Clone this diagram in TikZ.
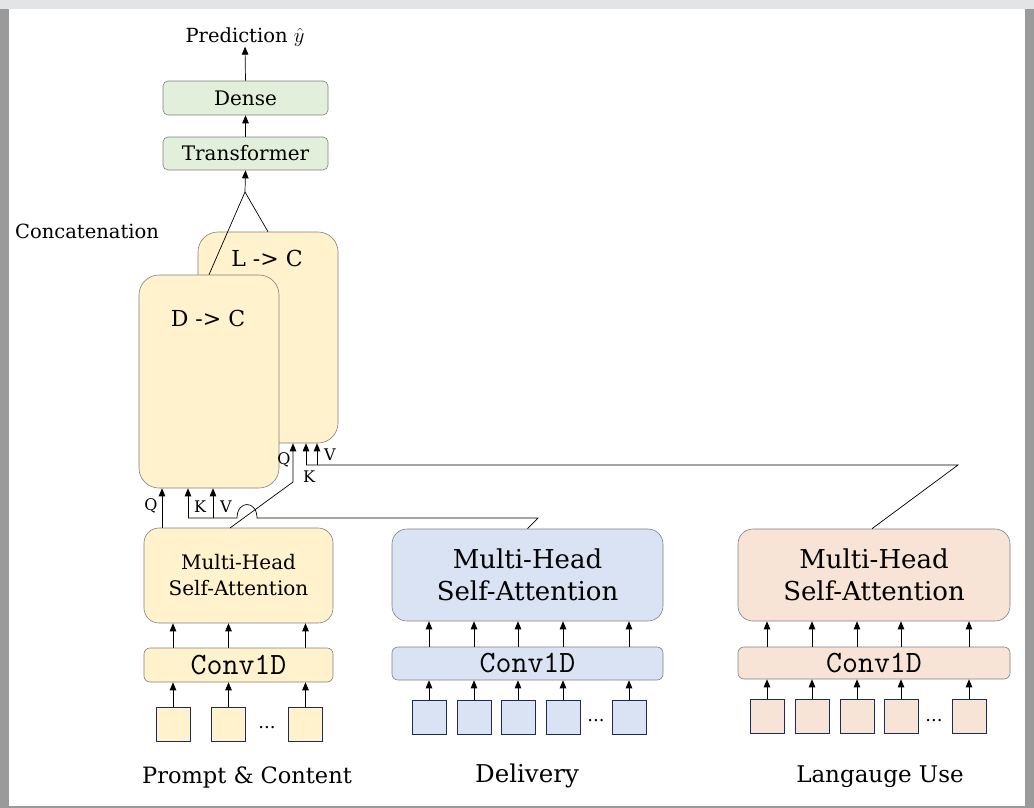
\documentclass[tikz,border=0pt]{standalone}
\usepackage{fontspec}
\setmainfont{DejaVu Serif}
\usetikzlibrary{arrows.meta,calc}
\definecolor{ylw}{HTML}{FFF2CC}
\definecolor{grn}{HTML}{E2EFDA}
\definecolor{blu}{HTML}{DAE3F3}
\definecolor{pch}{HTML}{F8E4D6}
\definecolor{edge}{HTML}{808080}
\definecolor{navy}{HTML}{1F2A5C}
\definecolor{topbar}{HTML}{E3E4E6}
\definecolor{sidebar}{HTML}{9A9A9A}
\begin{document}
\begin{tikzpicture}[x=1pt,y=-1pt,
  arr/.style={-{Triangle[length=8pt,width=6.5pt]}, line width=0.7pt},
  ln/.style={line width=0.7pt},
  topbox/.style={draw=edge, fill=grn, line width=0.6pt, rounded corners=5pt, inner sep=0pt, minimum width=165pt, minimum height=34pt, font=\fontsize{20}{22}\selectfont},
  bigbox/.style={draw=edge, fill=ylw, line width=0.6pt, rounded corners=20pt, inner sep=0pt, minimum width=140pt},
  mhbox/.style={draw=edge, line width=0.6pt, rounded corners=15pt, inner sep=0pt, align=center},
  convbox/.style={draw=edge, line width=0.6pt, rounded corners=6pt, inner sep=0pt, font=\ttfamily\fontsize{31}{33}\selectfont},
  sq/.style={draw=navy, line width=0.6pt, inner sep=0pt, minimum width=34pt, minimum height=34pt},
  lbl/.style={inner sep=0pt, font=\fontsize{19.5}{22}\selectfont},
  qkv/.style={inner sep=0pt, font=\fontsize{16}{18}\selectfont},
  dots/.style={inner sep=0pt, font=\fontsize{18}{20}\selectfont},
  bottomlbl/.style={inner sep=0pt}
]
\useasboundingbox (0,0) rectangle (1034,808);
% page frame
\fill[white] (0,0) rectangle (1034,808);
\fill[topbar] (0,0) rectangle (1034,9);
\fill[sidebar] (0,9) rectangle (9,808);
\fill[sidebar] (1025,9) rectangle (1034,808);
\fill[sidebar] (9,806) rectangle (1025,808);

% top
\node[lbl] (pred) at (245,37) {Prediction $\hat{y}$};
\node[topbox] (dense) at (245.5,98) {Dense};
\node[topbox, minimum height=33pt] (trans) at (245.5,153.5) {Transformer};
\node[lbl, anchor=west] (concat) at (15,231) {Concatenation};

% cross-attention blocks
\node[bigbox, minimum height=211pt] (lc) at (268,337.5) {};
\node[inner sep=0pt, font=\fontsize{22}{24}\selectfont] (lct) at (267,258) {L -> C};
\node[bigbox, minimum height=213pt] (dc) at (209,381.5) {};
\node[inner sep=0pt, font=\fontsize{22}{24}\selectfont] (dct) at (208,318) {D -> C};

\coordinate (cj) at (245,192);
\draw[arr] (dense.north) -- (pred.south);
\draw[arr] (trans.north) -- (dense.south);
\draw[arr] (cj) -- (trans.south);
\draw[ln] (cj) -- (dc.north);
\draw[ln] (cj) -- (lc.north);

% Prompt & Content
\node[mhbox, fill=ylw, minimum width=189pt, minimum height=95pt, font=\fontsize{20}{26}\selectfont] (mh1) at (238.5,575.5) {Multi-Head\\Self-Attention};
\node[convbox, fill=ylw, minimum width=189pt, minimum height=34pt] (cv1) at (238.5,665) {Conv1D};
\node[sq, fill=ylw] (a1) at (173,724) {};
\node[sq, fill=ylw] (a2) at (228.5,724) {};
\node[sq, fill=ylw] (a3) at (305.5,724) {};
\node[dots] (adots) at (267,728) {...};
\node[bottomlbl, font=\fontsize{22.5}{25}\selectfont] (pc) at (247,777) {Prompt \& Content};
\foreach \s in {a1,a2,a3}{
  \draw[arr] (\s.north) -- (\s.north |- cv1.south);
  \draw[arr] (\s.north |- cv1.north) -- (\s.north |- mh1.south);
}

% Delivery
\node[mhbox, fill=blu, minimum width=271pt, minimum height=92pt, font=\fontsize{26}{32}\selectfont] (mh2) at (527.5,575) {Multi-Head\\Self-Attention};
\node[convbox, fill=blu, minimum width=271pt, minimum height=33pt] (cv2) at (527.5,663.5) {Conv1D};
\node[sq, fill=blu] (b1) at (429,717) {};
\node[sq, fill=blu] (b2) at (474,717) {};
\node[sq, fill=blu] (b3) at (518,717) {};
\node[sq, fill=blu] (b4) at (563,717) {};
\node[sq, fill=blu] (b5) at (629,717) {};
\node[dots] (bdots) at (596,721) {...};
\node[bottomlbl, font=\fontsize{24.5}{27}\selectfont] (del) at (527,776) {Delivery};
\foreach \s in {b1,b2,b3,b4,b5}{
  \draw[arr] (\s.north) -- (\s.north |- cv2.south);
  \draw[arr] (\s.north |- cv2.north) -- (\s.north |- mh2.south);
}

% Language Use
\node[mhbox, fill=pch, minimum width=272pt, minimum height=92pt, font=\fontsize{26}{32}\selectfont] (mh3) at (874,575) {Multi-Head\\Self-Attention};
\node[convbox, fill=pch, minimum width=272pt, minimum height=32pt] (cv3) at (874,663) {Conv1D};
\node[sq, fill=pch] (c1) at (767,716.5) {};
\node[sq, fill=pch] (c2) at (812,716.5) {};
\node[sq, fill=pch] (c3) at (857,716.5) {};
\node[sq, fill=pch] (c4) at (901,716.5) {};
\node[sq, fill=pch] (c5) at (969,716.5) {};
\node[dots] (cdots) at (934,721) {...};
\node[bottomlbl, font=\fontsize{23}{26}\selectfont] (lu) at (880,777) {Langauge Use};
\foreach \s in {c1,c2,c3,c4,c5}{
  \draw[arr] (\s.north) -- (\s.north |- cv3.south);
  \draw[arr] (\s.north |- cv3.north) -- (\s.north |- mh3.south);
}

% Q,K,V into D -> C
\coordinate (q1) at (162,528);
\coordinate (k1) at (188,518);
\coordinate (v1) at (213,518);
\coordinate (hl) at (237,518);
\coordinate (hr) at (257,518);
\coordinate (d1) at (538,518);
\draw[arr] (q1) -- (q1 |- dc.south);
\draw[ln] (mh2.north) -- (d1) -- (hr) .. controls (257,500) and (237,500) .. (hl) -- (k1);
\draw[arr] (k1) -- (k1 |- dc.south);
\draw[arr] (v1) -- (v1 |- dc.south);
\node[qkv] (q1l) at (151,506) {Q};
\node[qkv] (k1l) at (200,507) {K};
\node[qkv] (v1l) at (226,507) {V};

% Q,K,V into L -> C
\coordinate (q2s) at (230,528);
\coordinate (q2c) at (293,482);
\coordinate (k2) at (306,465);
\coordinate (v2) at (317,465);
\coordinate (l1) at (958,465);
\draw[arr] (q2s) -- (q2c) -- (q2c |- lc.south);
\draw[ln] (mh3.north -| 872,0) -- (l1) -- (k2);
\draw[arr] (k2) -- (k2 |- lc.south);
\draw[arr] (v2) -- (v2 |- lc.south);
\node[qkv] (q2l) at (284,460) {Q};
\node[qkv] (k2l) at (309,477) {K};
\node[qkv] (v2l) at (330,455) {V};
\end{tikzpicture}
\end{document}
